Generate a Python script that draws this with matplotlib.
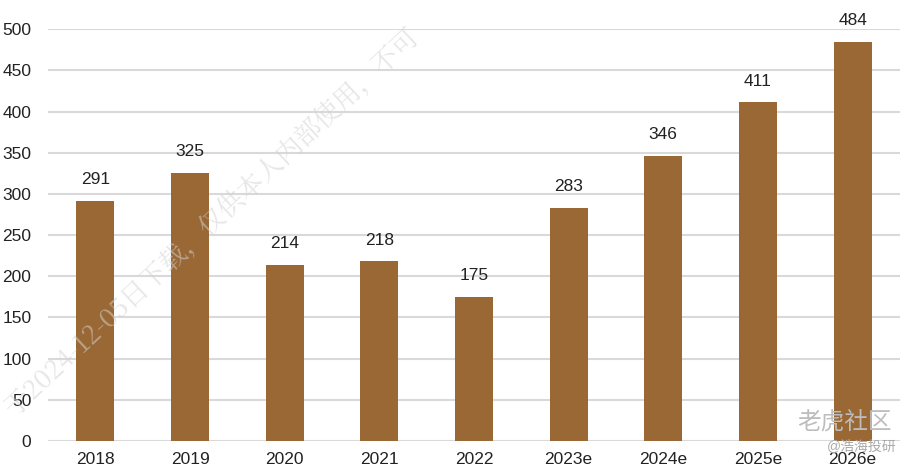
import matplotlib.pyplot as plt

plt.rcParams['font.family'] = ['Liberation Sans', 'Noto Sans CJK SC', 'DejaVu Sans']

# data
years = ['2018', '2019', '2020', '2021', '2022', '2023e', '2024e', '2025e', '2026e']
values = [291, 325, 214, 218, 175, 283, 346, 411, 484]
yticks = list(range(0, 501, 50))

fig = plt.figure(figsize=(9.15, 4.75), dpi=100)
ax = fig.add_axes([0.0525, 0.0716, 0.931, 0.867])

bars = ax.bar(range(len(years)), values, width=0.4, color='#9A6835', zorder=3)
for b, v in zip(bars, values):
    ax.annotate(str(v), (b.get_x() + b.get_width() / 2, v), xytext=(0, 10),
                textcoords='offset points', ha='center', va='bottom',
                fontsize=12.5, color='#222222')

ax.set_xlim(-0.5, len(years) - 0.5)
ax.set_ylim(0, 500)
ax.set_yticks(yticks)
ax.set_xticks(range(len(years)))
ax.set_xticklabels(years)
ax.yaxis.grid(True, color='#D9D9D9', linewidth=1.5, zorder=0)
ax.tick_params(length=0, labelsize=12.5, colors='#222222')
ax.tick_params(axis='y', pad=12)
ax.tick_params(axis='x', pad=8)
for s in ax.spines.values():
    s.set_visible(False)

# watermark and source tag
fig.text(0.0, 0.11, '于2024-12-05日下载，仅供本人内部使用，不可', rotation=43,
         fontsize=19, color='#D2D2D2', alpha=0.55, ha='left', va='bottom',
         family=['Noto Serif CJK SC', 'Noto Sans CJK SC'])
fig.text(0.975, 0.108, '老虎社区', fontsize=17, color='#BDBDBD', ha='right', va='center')
fig.text(0.98, 0.062, '@浩海投研', fontsize=10, color='#AAAAAA', ha='right', va='center')

fig.savefig('out.png', dpi=100)
